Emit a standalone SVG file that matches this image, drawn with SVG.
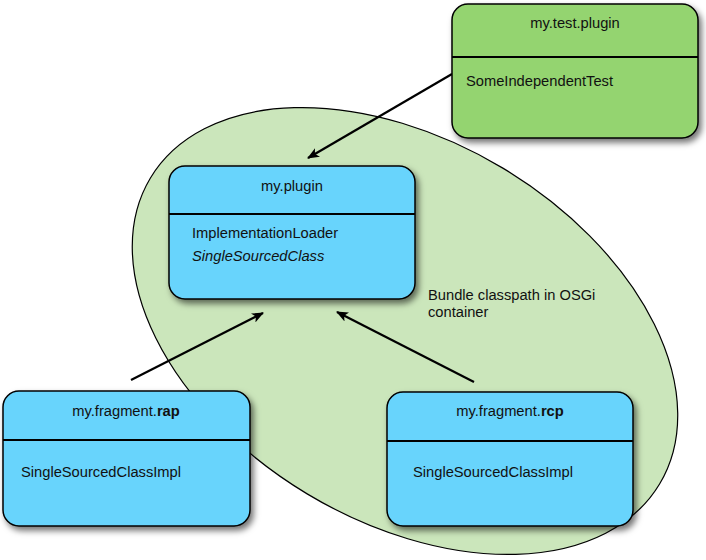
<svg xmlns="http://www.w3.org/2000/svg" width="706" height="560" viewBox="0 0 706 560">
<style>
  text { font-family: "Liberation Sans", Arial, Helvetica, sans-serif; font-size: 14.7px; fill: #111; }
  .title { text-anchor: middle; }
  .box { stroke: #000; stroke-width: 1.5; filter: url(#shadow); }
  .blue { fill: #68d4fc; }
  .green { fill: #94d46f; }
  .div { stroke: #000; stroke-width: 2; }
  .conn { stroke: #000; stroke-width: 2.2; fill: none; marker-end: url(#arrow); }
</style>
<defs>
  <filter id="shadow" x="-10%" y="-10%" width="130%" height="130%">
    <feDropShadow dx="3" dy="4" stdDeviation="3" flood-color="#000" flood-opacity="0.55"/>
  </filter>
  <marker id="arrow" viewBox="0 0 12 10" refX="11" refY="5" markerWidth="12" markerHeight="10" markerUnits="userSpaceOnUse" orient="auto">
    <path d="M0,0 L12,5 L0,10 L3,5 Z" fill="#000"/>
  </marker>
</defs>
<rect width="706" height="560" fill="#fff"/>
<g id="classpath">
  <ellipse cx="405" cy="331" rx="297" ry="190" transform="rotate(31 405 331)" fill="#cbe6bb" stroke="#000" stroke-width="1.2"/>
  <text x="428" y="300">Bundle classpath in OSGi</text>
  <text x="428" y="317">container</text>
</g>
<g id="connectors">
  <line class="conn" x1="452" y1="74" x2="308" y2="158"/>
  <line class="conn" x1="131" y1="380" x2="263" y2="313"/>
  <line class="conn" x1="474" y1="382" x2="337" y2="312"/>
</g>
<g id="my-test-plugin">
  <rect class="box green" x="452" y="4" width="246" height="134" rx="16"/>
  <line class="div" x1="452" y1="57" x2="698" y2="57"/>
  <text class="title" x="575" y="28">my.test.plugin</text>
  <text x="466" y="86">SomeIndependentTest</text>
</g>
<g id="my-plugin">
  <rect class="box blue" x="169" y="166" width="246" height="133" rx="16"/>
  <line class="div" x1="169" y1="214" x2="415" y2="214"/>
  <text class="title" x="292" y="191">my.plugin</text>
  <text x="192" y="238">ImplementationLoader</text>
  <text x="192" y="261" font-style="italic">SingleSourcedClass</text>
</g>
<g id="my-fragment-rap">
  <rect class="box blue" x="3" y="391" width="247" height="135" rx="16"/>
  <line class="div" x1="3" y1="440" x2="250" y2="440"/>
  <text class="title" x="126" y="416">my.fragment.<tspan font-weight="bold">rap</tspan></text>
  <text x="21" y="477">SingleSourcedClassImpl</text>
</g>
<g id="my-fragment-rcp">
  <rect class="box blue" x="387" y="392" width="246" height="134" rx="16"/>
  <line class="div" x1="387" y1="441" x2="633" y2="441"/>
  <text class="title" x="510" y="416">my.fragment.<tspan font-weight="bold">rcp</tspan></text>
  <text x="413" y="477">SingleSourcedClassImpl</text>
</g>
</svg>
